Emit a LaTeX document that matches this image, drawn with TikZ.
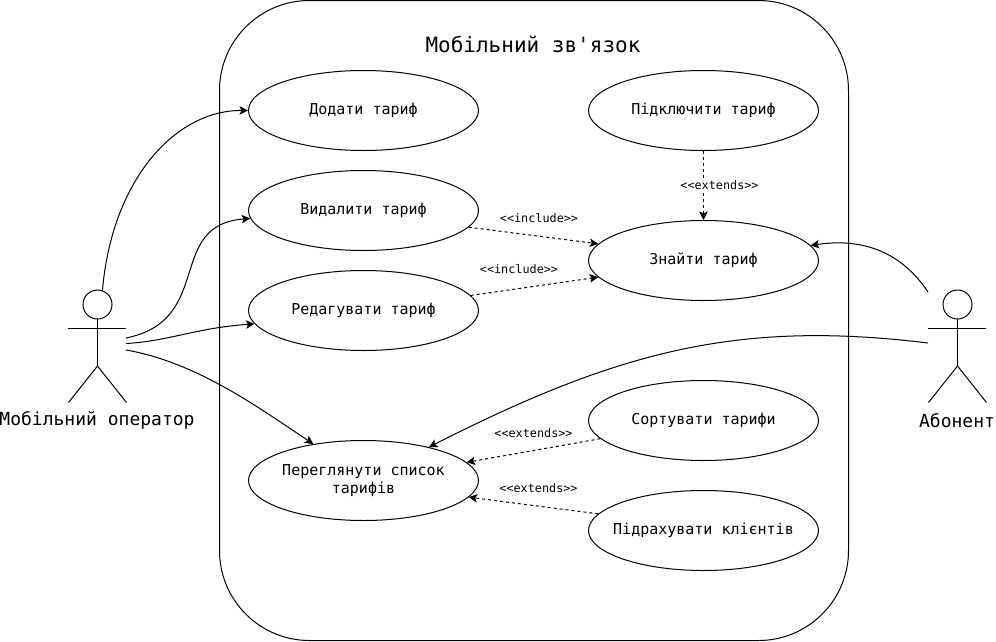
\documentclass[tikz,border=0pt]{standalone}
\usepackage{fontspec}
\usepackage{xcolor}
\usepackage{tikz}
\usetikzlibrary{arrows.meta,shapes.geometric}
\newfontfamily\diagfont{DejaVu Sans Mono}

\begin{document}
\begin{tikzpicture}[
    x=1pt,y=-1pt,
    >={Stealth[length=8.5pt,width=8.5pt,inset=2pt]},
    line width=1pt,
    every node/.style={font=\diagfont\fontsize{15}{18}\selectfont},
    usecase/.style={ellipse,draw,align=center,minimum width=230pt,minimum height=80pt,inner xsep=-10pt,inner ysep=0pt},
    assoc/.style={->},
    depend/.style={->,dash pattern=on 3pt off 3pt},
    stereo/.style={font=\diagfont\fontsize{11.8}{14}\selectfont,inner sep=1pt},
    actorlabel/.style={font=\diagfont\fontsize{18}{22}\selectfont,inner sep=0pt}
  ]
  \useasboundingbox (0,0) rectangle (996,641);
  %% System boundary
  \node[draw,rounded corners=90pt,minimum width=629pt,minimum height=640pt,inner sep=0pt] (system) at (534,320.5) {};
  \node[font=\diagfont\fontsize{21}{25}\selectfont] (title) at (533,44.5) {Мобільний зв'язок};
  %% Use cases
  \node[usecase] (add)    at (363.5,110.5) {Додати тариф};
  \node[usecase] (delete) at (363.5,210.5) {Видалити тариф};
  \node[usecase] (edit)   at (363.5,310.5) {Редагувати тариф};
  \node[usecase] (browse) at (363.5,480.5) {Переглянути список\\тарифів};
  \node[usecase] (plug)   at (703.5,110.5) {Підключити тариф};
  \node[usecase] (find)   at (703.5,260.5) {Знайти тариф};
  \node[usecase] (sort)   at (703.5,420.5) {Сортувати тарифи};
  \node[usecase] (count)  at (703.5,530.5) {Підрахувати клієнтів};
  %% Mobile operator
  \draw (97.5,304.5) circle (14.5);
  \draw (97.5,319) -- (97.5,366);
  \draw (68,328) -- (126,328);
  \draw (68.5,402.5) -- (97.5,366) -- (126.5,402.5);
  \node[actorlabel] (operator) at (97,420.5) {Мобільний оператор};
  \coordinate (opTop) at (102.5,290);
  \coordinate (opA)   at (126,338);
  \coordinate (opB)   at (126,343.5);
  \coordinate (opC)   at (126,350);
  %% Subscriber
  \draw (957.5,304.5) circle (14.5);
  \draw (957.5,319) -- (957.5,366);
  \draw (928,328) -- (986,328);
  \draw (928.5,402.5) -- (957.5,366) -- (986.5,402.5);
  \node[actorlabel] (subscriber) at (957,420.5) {Абонент};
  \coordinate (subTop) at (928,292);
  \coordinate (subArm) at (928,343);
  %% Associations
  \draw[assoc] (opTop) .. controls (112,180) and (175,110) .. (add.west);
  \draw[assoc] (opA) .. controls (215,320) and (165,225) .. (delete.184);
  \draw[assoc] (opB) .. controls (170,341) and (195,328) .. (edit.187);
  \draw[assoc] (opC) .. controls (195,362) and (255,405) .. (browse.144);
  \draw[assoc] (subTop) .. controls (900,250) and (860,238) .. (find.8);
  \draw[assoc] (subArm) .. controls (740,320) and (620,350) .. (browse.27);
  %% Dependencies
  \draw[depend] (delete.351.5) -- (find.171.4);
  \draw[depend] (edit.8.5) -- (find.189);
  \draw[depend] (plug.south) -- node[stereo,fill=white,pos=0.5,xshift=16pt] (ext1) {<{}<extends>{}>} (find.north);
  \draw[depend] (sort.190.5) -- (browse.10);
  \draw[depend] (count.171.4) -- (browse.351);
  \node[stereo] (inc1) at (539,218.5) {<{}<include>{}>};
  \node[stereo] (inc2) at (519,269.5) {<{}<include>{}>};
  \node[stereo] (ext2) at (533.5,433.5) {<{}<extends>{}>};
  \node[stereo] (ext3) at (538.5,488.5) {<{}<extends>{}>};
\end{tikzpicture}
\end{document}
